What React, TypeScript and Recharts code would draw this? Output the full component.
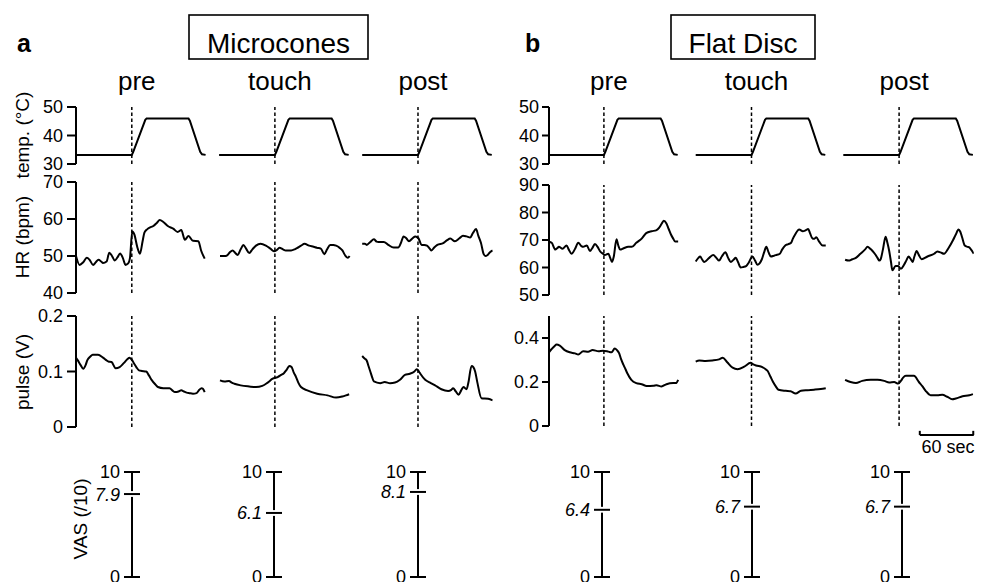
import React from 'react';
import { LineChart, Line, XAxis, YAxis, ReferenceLine } from 'recharts';

const FONT = '"Liberation Sans", Arial, Helvetica, sans-serif';

type Pair = [number, number];

// ---------- labels ----------
const panelLetters = ['a', 'b'];
const groupTitles = ['Microcones', 'Flat Disc'];
const phaseLabels = ['pre', 'touch', 'post'];

// ---------- temperature protocol (sec from onset, °C) ----------
const tempProfile: Pair[] = [
  [-62, 33.2], [0, 33.2], [1.5, 34.2], [15, 45.5], [16.5, 46], [63, 46], [64.5, 45.2],
  [76, 34.3], [78, 33.4], [82, 33.2],
];

// ---------- heart rate (bpm) ----------
const hrMicroPre: Pair[] = [
  [-62, 50.0], [-58, 47.6], [-54, 48.3], [-50, 49.5], [-47, 49.0], [-43, 47.6], [-40, 48.3],
  [-37, 49.0], [-34, 48.5], [-32, 48.1], [-28, 48.5], [-25, 50.9], [-22, 50.0], [-19, 48.8],
  [-16, 49.6], [-13, 50.7], [-10, 49.5], [-7, 47.6], [-4, 48.0], [-2, 49.5], [0.5, 56.6],
  [3, 55.7], [6, 52.5], [9, 50.6], [12, 54], [14, 56.3], [17, 57.2], [20, 57.7], [24, 58.1],
  [28, 59], [31, 59.7], [35, 59.2], [40, 58.1], [46, 57.4], [51, 56.5], [55, 57.0], [59, 54.4],
  [63, 55.4], [68, 54.1], [74, 54.0], [77, 51.5], [81, 49.3],
];
const hrMicroTouch: Pair[] = [
  [-61, 50.0], [-56, 50.0], [-53, 50.2], [-50, 51.0], [-47, 51.5], [-44, 50.8], [-41.5, 50.3],
  [-38, 51.8], [-35, 53.0], [-32, 52.0], [-28.5, 50.8], [-25, 51.8], [-21, 52.8], [-16, 53.3],
  [-10, 52.8], [-5, 52.0], [-1, 51.3], [2, 51.6], [5, 52.2], [9, 51.8], [12, 51.5], [18, 51.5],
  [22, 51.8], [25, 52.2], [29, 52.8], [33, 53.3], [38, 52.8], [43, 52.5], [47, 52.2], [51, 52.0],
  [55, 50.5], [58, 51.8], [61.5, 53.0], [65, 53.0], [68, 52.8], [72, 52.2], [75, 51.5],
  [78, 50.2], [81, 49.5], [83, 50.0],
];
const hrMicroPost: Pair[] = [
  [-62, 53.3], [-59, 53.3], [-57, 53.0], [-53, 53.8], [-49, 54.5], [-46, 53.9], [-44, 53.8],
  [-38, 53.8], [-33, 53.0], [-27, 52.3], [-22, 52.3], [-19, 53.5], [-16, 55.3], [-13, 54.8],
  [-10, 54.0], [-6, 54.8], [-3, 55.3], [0.5, 54.8], [4, 53.0], [7, 53.0], [10, 52.8], [13, 52.0],
  [15, 51.5], [18, 52.3], [21.5, 53.0], [28, 53.5], [32, 54.2], [36, 54.7], [41, 54.0],
  [46, 54.8], [50, 55.5], [54, 55.3], [58, 55.0], [61, 56.2], [64.5, 57.3], [67, 55.5],
  [70, 53.5], [73, 50.5], [75, 50.0], [77, 50.2], [80, 51.0], [83, 51.5],
];
const hrFlatPre: Pair[] = [
  [-61, 69.4], [-58, 69.0], [-54, 66.5], [-52, 67.0], [-50, 67.5], [-46, 66.8], [-41.5, 68.0],
  [-39, 66.5], [-36, 65.0], [-32, 66.8], [-28.5, 69.0], [-25, 67.8], [-23, 67.5], [-19, 68.0],
  [-15.5, 66.0], [-13, 67.0], [-10, 68.5], [-7, 67.5], [-4.5, 66.0], [-1, 65.0], [1, 64.5],
  [5, 65.0], [7, 63.5], [9, 62.0], [11, 64.0], [14, 70.3], [16, 68.0], [18, 66.5], [22, 67.0],
  [27, 67.5], [31, 67.5], [36, 69.0], [42, 70.5], [47, 72.5], [53, 73.2], [58, 73.5],
  [61.5, 74.5], [64, 75.8], [66.5, 77.0], [69.5, 76.0], [72, 74], [74.5, 72.0], [77, 70.5],
  [79, 69.5], [82.5, 69.5],
];
const hrFlatTouch: Pair[] = [
  [-62, 62.2], [-59, 63.5], [-57, 64.0], [-55, 63.0], [-52.5, 62.0], [-47, 63.5], [-42.5, 64.5],
  [-39, 63.5], [-36, 62.5], [-33, 64.0], [-29, 65.5], [-26, 63.5], [-23, 62.0], [-20, 62.8],
  [-17.5, 63.5], [-15, 62.0], [-12, 60.0], [-9, 60.2], [-6, 60.5], [-3, 61.8], [1, 64.0],
  [4, 62.5], [6.5, 61.0], [9, 61.5], [11.5, 63.0], [14, 65.5], [16.5, 67.5], [19, 65.5],
  [21.5, 64.0], [25, 64.3], [27, 64.5], [31.5, 65.0], [34, 66.5], [37.5, 68.0], [41, 68.5],
  [44, 69.0], [46, 70.5], [48.5, 72.0], [53, 73.8], [57, 73.2], [60, 73.5], [63, 74.0],
  [65, 72.5], [68, 70.5], [70, 70.5], [72, 71.0], [75, 69.5], [79, 68.0], [82.5, 68.0],
];
const hrFlatPost: Pair[] = [
  [-60, 62.8], [-56, 62.5], [-52, 63.0], [-48, 63.5], [-43, 65.0], [-38, 66.5], [-35, 67.5],
  [-32, 66.8], [-29.5, 66.0], [-27, 65.0], [-24, 63.5], [-22, 62.5], [-20.5, 63.0], [-18, 66.5],
  [-15, 71.2], [-13, 69], [-11, 66.0], [-9, 62], [-7.5, 59.0], [-4, 60.5], [-1, 60.5],
  [2, 59.5], [5.5, 61.0], [8, 62.5], [10.5, 64.0], [13, 63], [15, 62.0], [17, 64], [19.5, 66.0],
  [22, 64.5], [25, 63.0], [31.5, 64.0], [39, 65.0], [42.5, 65.8], [46, 65.5], [50, 65.0],
  [54.8, 67.0], [60, 70.0], [63, 72], [66, 73.8], [68, 73], [70, 71.0], [73, 68.0], [76, 67.5],
  [78, 67.3], [80, 66.5], [83, 65.0],
];

// ---------- pulse amplitude (V) ----------
const pulseMicroPre: Pair[] = [
  [-62, 0.125], [-60, 0.12], [-57, 0.112], [-54, 0.105], [-51, 0.113], [-49.5, 0.12],
  [-46, 0.127], [-43.5, 0.13], [-37.5, 0.13], [-32, 0.125], [-28, 0.12], [-26, 0.118],
  [-22.5, 0.117], [-18, 0.106], [-13.5, 0.108], [-9, 0.115], [-5, 0.122], [-2.5, 0.125],
  [0.5, 0.12], [3, 0.113], [5, 0.108], [8, 0.102], [11, 0.101], [16, 0.1], [19, 0.093],
  [22, 0.085], [26, 0.077], [29, 0.072], [35, 0.07], [42, 0.07], [45, 0.066], [48, 0.063],
  [52, 0.064], [55, 0.066], [58, 0.064], [61, 0.062], [64, 0.061], [68, 0.06], [72, 0.061],
  [75, 0.067], [77.5, 0.07], [79, 0.069], [81, 0.063],
];
const pulseMicroTouch: Pair[] = [
  [-61, 0.084], [-56, 0.082], [-51, 0.083], [-48, 0.08], [-45, 0.078], [-38, 0.075],
  [-28.5, 0.073], [-21, 0.072], [-14, 0.074], [-8, 0.08], [-2.5, 0.087], [3, 0.09], [7, 0.094],
  [10, 0.097], [13, 0.103], [16, 0.11], [18.5, 0.108], [21, 0.098], [23.5, 0.09], [26, 0.08],
  [29, 0.072], [36, 0.066], [47, 0.06], [58.5, 0.057], [68, 0.053], [75, 0.055], [79, 0.057],
  [82.5, 0.059],
];
const pulseMicroPost: Pair[] = [
  [-62, 0.128], [-59, 0.123], [-57, 0.12], [-55, 0.11], [-53, 0.1], [-51, 0.09], [-49, 0.082],
  [-42, 0.079], [-37, 0.081], [-31, 0.079], [-25.5, 0.08], [-20, 0.085], [-14.5, 0.094],
  [-9, 0.096], [-4, 0.1], [-1.5, 0.104], [1, 0.1], [3, 0.095], [8, 0.085], [13.5, 0.08],
  [19, 0.075], [26, 0.068], [33.5, 0.065], [37, 0.067], [39, 0.07], [42, 0.064], [45, 0.058],
  [48, 0.066], [50.5, 0.072], [54, 0.068], [56, 0.08], [59.5, 0.11], [61.5, 0.108],
  [63.5, 0.1], [66, 0.08], [70.5, 0.052], [78, 0.051], [83, 0.048],
];
const pulseFlatPre: Pair[] = [
  [-61, 0.335], [-58, 0.35], [-55, 0.363], [-52.5, 0.37], [-49, 0.365], [-43.5, 0.345],
  [-38, 0.335], [-32, 0.33], [-28.5, 0.325], [-23, 0.34], [-17.5, 0.338], [-12.5, 0.345],
  [-6, 0.34], [-1, 0.342], [5, 0.338], [8.5, 0.335], [12, 0.352], [14.5, 0.345], [17, 0.33],
  [19, 0.305], [21.5, 0.28], [24, 0.258], [26, 0.24], [30.5, 0.21], [36, 0.195], [42, 0.19],
  [47.5, 0.182], [55, 0.183], [58.5, 0.185], [64, 0.18], [69.5, 0.19], [77, 0.195], [80, 0.195],
  [82.5, 0.21],
];
const pulseFlatTouch: Pair[] = [
  [-62, 0.293], [-58, 0.298], [-51, 0.296], [-43.5, 0.298], [-36, 0.303], [-32, 0.31],
  [-27, 0.29], [-21, 0.265], [-15.5, 0.258], [-8, 0.27], [-1, 0.287], [2, 0.28], [5, 0.275],
  [12, 0.268], [15, 0.26], [18, 0.25], [21, 0.225], [24, 0.2], [27, 0.18], [30, 0.165],
  [38, 0.16], [43.5, 0.158], [49, 0.148], [55, 0.16], [62, 0.163], [69.5, 0.165], [77, 0.168],
  [82.5, 0.172],
];
const pulseFlatPost: Pair[] = [
  [-60, 0.21], [-54, 0.2], [-48, 0.195], [-41, 0.205], [-31.5, 0.21], [-24, 0.21],
  [-16.5, 0.205], [-11, 0.198], [-5.5, 0.2], [-1, 0.193], [2, 0.205], [4.5, 0.22], [7.5, 0.228],
  [16.5, 0.228], [22, 0.2], [26, 0.18], [29.5, 0.16], [35, 0.14], [42.5, 0.14], [48, 0.142],
  [53.5, 0.133], [59, 0.122], [63, 0.125], [70.5, 0.135], [78, 0.14], [82, 0.145],
];

// ---------- VAS (/10) ----------
const vasMicro = [7.9, 6.1, 8.1];
const vasFlat = [6.4, 6.7, 6.7];
const vasRange = [0, 10];

// ---------- axis ticks ----------
const tempTicks = [30, 40, 50];
const hrMicroTicks = [40, 50, 60, 70];
const hrFlatTicks = [50, 60, 70, 80, 90];
const pulseMicroTicks = [0, 0.1, 0.2];
const pulseFlatTicks = [0, 0.2, 0.4];
const scaleBarSec = 60;

// ---------- layout ----------
const PX_PER_SEC = 0.9;
const YW = 60;
const VM = 14; // vertical margin inside each chart so tick labels are not clipped

type Group = {
  axisX: number;
  xStart: number;
  spacing: number;
  xEnd: number;
  tickSize: number;
  tickMargin: number;
  vasX: number[];
};

const groupLayout: Group[] = [
  { axisX: 76, xStart: -62, spacing: 159, xEnd: 401, tickSize: 9, tickMargin: 4, vasX: [132, 274, 418] },
  { axisX: 549, xStart: -61, spacing: 164, xEnd: 411, tickSize: 7, tickMargin: 3, vasX: [602, 752, 902] },
];

const shift = (arr: Pair[], off: number) => arr.map(([t, v]) => ({ t: t + off, v }));

type RowProps = {
  g: Group;
  top: number;
  plotH: number;
  yDomain: [number, number];
  yTicks: number[];
  series: Pair[][];
  linear?: boolean;
  extraBottom?: number;
  children?: React.ReactNode;
};

function TraceRow({ g, top, plotH, yDomain, yTicks, series, linear, extraBottom = 0, children }: RowProps) {
  const plotW = (g.xEnd - g.xStart) * PX_PER_SEC;
  const offsets = series.map((_, i) => i * g.spacing);
  return (
    <div style={{ position: 'absolute', left: g.axisX - YW, top: top - VM }}>
      <LineChart
        width={YW + plotW + 6}
        height={plotH + 2 * VM + extraBottom}
        margin={{ top: VM, right: 6, bottom: VM + extraBottom, left: 0 }}
      >
        <XAxis type="number" dataKey="t" domain={[g.xStart, g.xEnd]} allowDataOverflow hide />
        <YAxis
          type="number"
          domain={yDomain}
          ticks={yTicks}
          interval={0}
          allowDataOverflow
          width={YW}
          tickSize={g.tickSize}
          tickMargin={g.tickMargin}
          axisLine={{ stroke: '#000', strokeWidth: 2 }}
          tickLine={{ stroke: '#000', strokeWidth: 2 }}
          tick={{ fill: '#000', fontSize: 18, fontFamily: FONT }}
        />
        {offsets.map((o) => (
          <ReferenceLine key={'r' + o} x={o} stroke="#000" strokeWidth={1.5} strokeDasharray="3.5 2.5" />
        ))}
        {series.map((s, i) => (
          <Line
            key={'l' + i}
            data={shift(s, offsets[i])}
            dataKey="v"
            type={linear ? 'linear' : 'monotone'}
            stroke="#000"
            strokeWidth={2}
            dot={false}
            activeDot={false}
            isAnimationActive={false}
          />
        ))}
        {children}
      </LineChart>
    </div>
  );
}

function VasScale({ axisX, value }: { axisX: number; value: number }) {
  const W = 50;
  const renderTick = (props: any) => {
    const { y, payload } = props;
    const v = payload.value;
    const isVal = v === value;
    return (
      <g>
        <line x1={W - 8} x2={W + 8} y1={y} y2={y} stroke="#000" strokeWidth={2} />
        <text
          x={W - 12}
          y={y}
          dy="0.36em"
          textAnchor="end"
          fontSize={18}
          fontFamily={FONT}
          fontStyle={isVal ? 'italic' : 'normal'}
          fill="#000"
        >
          {String(v)}
        </text>
      </g>
    );
  };
  return (
    <div style={{ position: 'absolute', left: axisX - W, top: 472 - VM }}>
      <LineChart width={W + 30} height={105 + 2 * VM} margin={{ top: VM, right: 20, bottom: VM, left: 0 }}>
        <XAxis type="number" dataKey="t" domain={[0, 1]} hide />
        <YAxis
          type="number"
          domain={[vasRange[0], vasRange[1]]}
          ticks={[vasRange[0], value, vasRange[1]]}
          interval={0}
          allowDataOverflow
          width={W}
          tickLine={false}
          axisLine={{ stroke: '#000', strokeWidth: 2 }}
          tick={renderTick}
        />
        <Line
          data={[{ t: 0, v: value }]}
          dataKey="v"
          stroke="none"
          dot={false}
          activeDot={false}
          isAnimationActive={false}
        />
      </LineChart>
    </div>
  );
}

export default function App() {
  const [ga, gb] = groupLayout;
  const dashX = (g: Group, i: number) => g.axisX + (i * g.spacing - g.xStart) * PX_PER_SEC;
  const titleBoxes = [
    { x: 189, w: 179 },
    { x: 671, w: 144 },
  ];
  const letterX = [17, 525];
  return (
    <div style={{ position: 'absolute', left: 0, top: 0, width: 987, height: 582, background: '#fff', overflow: 'hidden' }}>
      {/* Microcones */}
      <TraceRow g={ga} top={107} plotH={57} yDomain={[30, 50]} yTicks={tempTicks} series={[tempProfile, tempProfile, tempProfile]} linear />
      <TraceRow g={ga} top={182} plotH={111} yDomain={[40, 70]} yTicks={hrMicroTicks} series={[hrMicroPre, hrMicroTouch, hrMicroPost]} />
      <TraceRow g={ga} top={316} plotH={111} yDomain={[0, 0.2]} yTicks={pulseMicroTicks} series={[pulseMicroPre, pulseMicroTouch, pulseMicroPost]} />
      {/* Flat disc */}
      <TraceRow g={gb} top={107} plotH={57} yDomain={[30, 50]} yTicks={tempTicks} series={[tempProfile, tempProfile, tempProfile]} linear />
      <TraceRow g={gb} top={185} plotH={110} yDomain={[50, 90]} yTicks={hrFlatTicks} series={[hrFlatPre, hrFlatTouch, hrFlatPost]} />
      <TraceRow g={gb} top={316} plotH={110} yDomain={[0, 0.5]} yTicks={pulseFlatTicks} series={[pulseFlatPre, pulseFlatTouch, pulseFlatPost]} extraBottom={10}>
        <ReferenceLine
          segment={[{ x: gb.xEnd - scaleBarSec, y: -0.041 }, { x: gb.xEnd, y: -0.041 }]}
          stroke="#000"
          strokeWidth={2}
          ifOverflow="visible"
        />
        <ReferenceLine
          segment={[{ x: gb.xEnd - scaleBarSec, y: -0.041 }, { x: gb.xEnd - scaleBarSec, y: -0.022 }]}
          stroke="#000"
          strokeWidth={2}
          ifOverflow="visible"
        />
        <ReferenceLine
          segment={[{ x: gb.xEnd - 0.6, y: -0.041 }, { x: gb.xEnd - 0.6, y: -0.022 }]}
          stroke="#000"
          strokeWidth={2}
          ifOverflow="visible"
        />
      </TraceRow>

      {vasMicro.map((v, i) => (
        <VasScale key={'va' + i} axisX={ga.vasX[i]} value={v} />
      ))}
      {vasFlat.map((v, i) => (
        <VasScale key={'vb' + i} axisX={gb.vasX[i]} value={v} />
      ))}

      <svg width={987} height={582} style={{ position: 'absolute', left: 0, top: 0, pointerEvents: 'none' }} fontFamily={FONT}>
        {panelLetters.map((l, i) => (
          <text key={l} x={letterX[i]} y={52} fontSize={25} fontWeight="bold" fill="#000">
            {l}
          </text>
        ))}
        {groupTitles.map((t, i) => (
          <g key={t}>
            <rect x={titleBoxes[i].x} y={15} width={titleBoxes[i].w} height={44} fill="none" stroke="#000" strokeWidth={1.6} />
            <text x={titleBoxes[i].x + titleBoxes[i].w / 2} y={53} fontSize={28} textAnchor="middle" fill="#000">
              {t}
            </text>
          </g>
        ))}
        {[ga, gb].map((g, gi) =>
          phaseLabels.map((p, i) => (
            <text key={gi + p} x={dashX(g, i) + 5} y={90} fontSize={26} textAnchor="middle" fill="#000">
              {p}
            </text>
          ))
        )}
        {[
          { t: 'temp. (°C)', y: 135 },
          { t: 'HR (bpm)', y: 237 },
          { t: 'pulse (V)', y: 372 },
        ].map((a) => (
          <text key={a.t} x={29} y={a.y} fontSize={19} textAnchor="middle" transform={`rotate(-90 29 ${a.y})`} fill="#000">
            {a.t}
          </text>
        ))}
        <text x={87} y={519} fontSize={19} textAnchor="middle" transform="rotate(-90 87 519)" fill="#000">
          VAS (/10)
        </text>
        <text x={948} y={453} fontSize={18} textAnchor="middle" fill="#000">
          {scaleBarSec} sec
        </text>
      </svg>
    </div>
  );
}
